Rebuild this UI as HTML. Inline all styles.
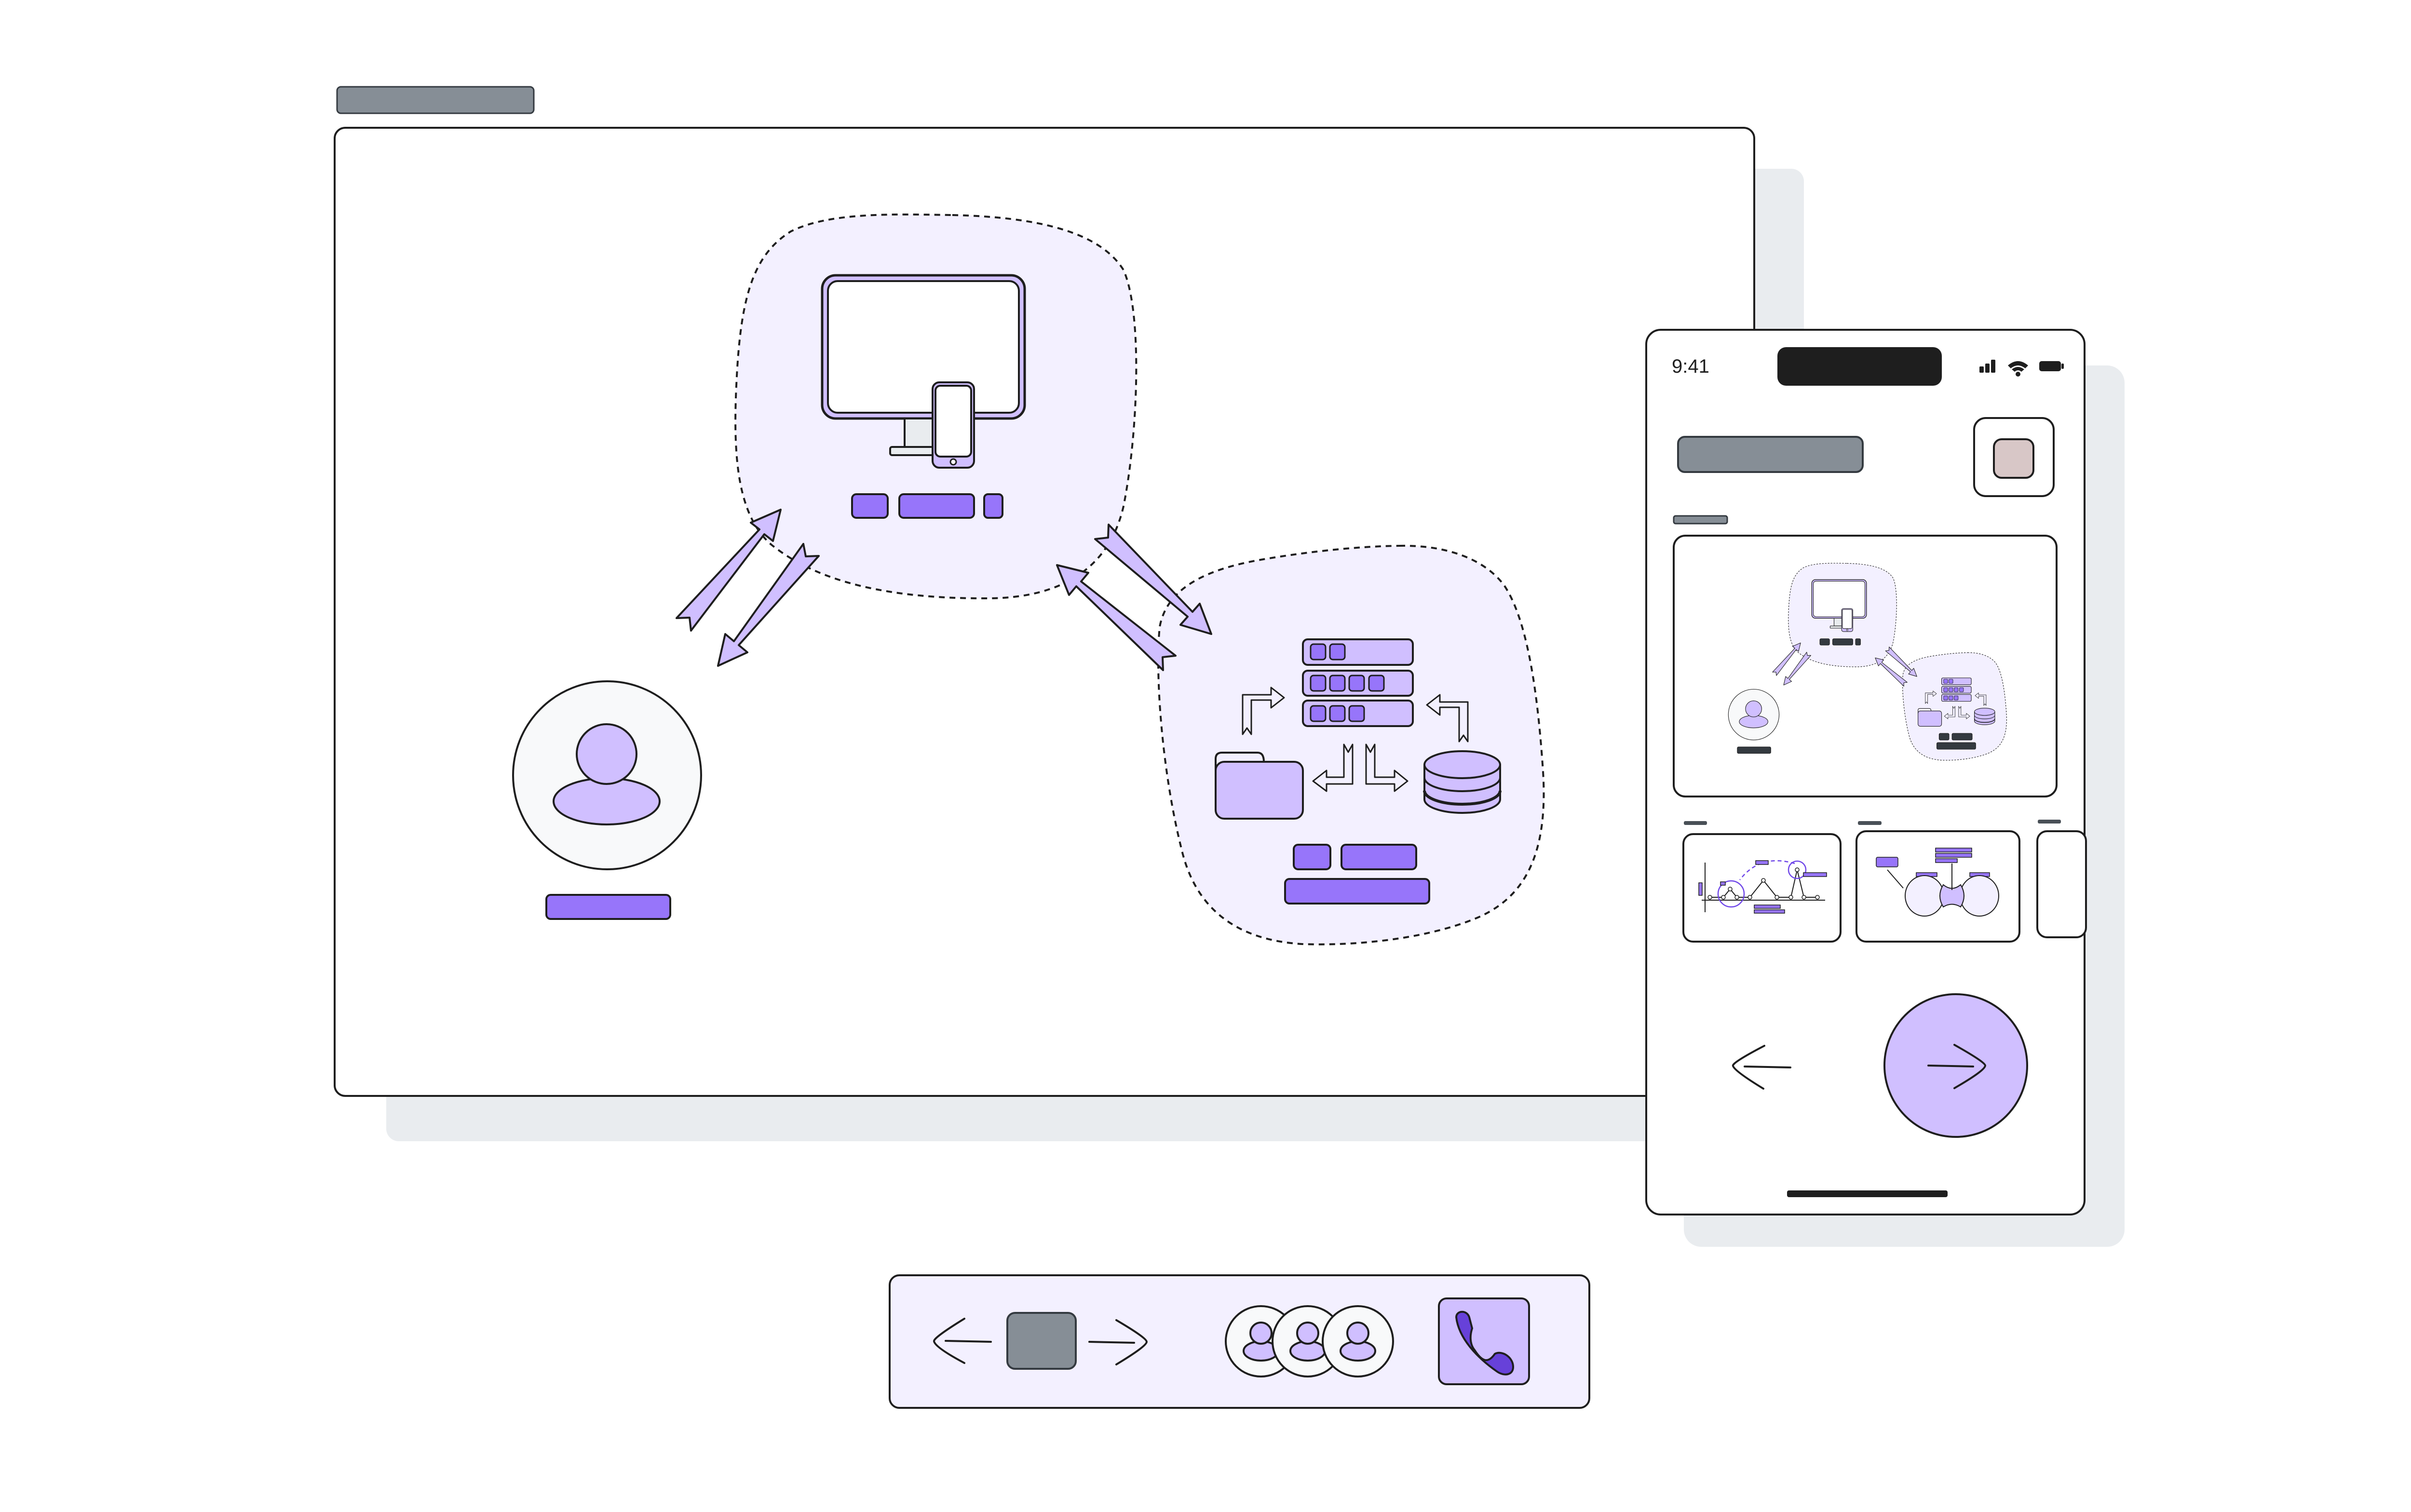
<!DOCTYPE html>
<html><head><meta charset="utf-8"><style>
html,body{margin:0;padding:0;background:#fff;}
svg{display:block;}
.lbl{fill:var(--btn,#9775fa);}
</style></head><body>
<svg xmlns="http://www.w3.org/2000/svg" xmlns:xlink="http://www.w3.org/1999/xlink" width="5280" height="3136" viewBox="0 0 5280 3136">
<defs>
<g id="diag" stroke="#1e1e1e" stroke-linejoin="round">
  <path d="M1975,446 C2150,450 2280,480 2330,560 C2370,650 2360,900 2330,1050 C2300,1180 2200,1240 2050,1241 C1850,1242 1700,1210 1600,1130 C1530,1070 1520,950 1527,800 C1535,620 1560,530 1640,480 C1720,440 1850,444 1975,446 Z" fill="#f3f0ff" stroke-width="4" stroke-dasharray="12 10"/>
  <path d="M2902,1132 C3000,1130 3080,1160 3120,1215 C3170,1290 3190,1450 3200,1600 C3210,1760 3170,1860 3060,1905 C2950,1950 2800,1962 2700,1958 C2570,1950 2480,1890 2450,1760 C2410,1600 2395,1400 2405,1300 C2420,1220 2500,1180 2620,1160 C2720,1143 2820,1133 2902,1132 Z" fill="#f3f0ff" stroke-width="4" stroke-dasharray="12 10"/>
  <g fill="#d0bfff" stroke-width="4">
    <polygon points="1619,1057 1603,1122 1585,1108 1433,1308 1430,1281 1403,1282 1575,1098 1557,1084"/>
    <polygon points="1489,1381 1550,1353 1532,1338 1698,1153 1671,1154 1666,1128 1522,1330 1504,1315"/>
    <polygon points="2512,1315 2488,1252 2473,1269 2299,1088 2298,1115 2271,1118 2463,1279 2448,1296"/>
    <polygon points="2192,1172 2257,1188 2242,1206 2438,1360 2411,1363 2412,1390 2232,1216 2217,1234"/>
  </g>
  <rect x="1705" y="571" width="420" height="297" rx="28" fill="#d0bfff" stroke-width="5"/>
  <rect x="1717" y="583" width="396" height="273" rx="20" fill="#fff" stroke-width="4"/>
  <rect x="1876" y="868" width="60" height="59" fill="#e9ecef" stroke-width="4"/>
  <rect x="1846" y="927" width="95" height="17" rx="4" fill="#e9ecef" stroke-width="4"/>
  <rect x="1934" y="793" width="86" height="177" rx="14" fill="#d0bfff" stroke-width="4"/>
  <rect x="1940" y="800" width="74" height="147" rx="10" fill="#fff" stroke-width="4"/>
  <circle cx="1977" cy="958" r="6" fill="#fff" stroke-width="3"/>
  <g stroke-width="4">
    <rect class="lbl" x="1767" y="1025" width="74" height="49" rx="9"/>
    <rect class="lbl" x="1865" y="1025" width="155" height="49" rx="9"/>
    <rect class="lbl" x="2041" y="1025" width="38" height="49" rx="8"/>
  </g>
  <circle cx="1259" cy="1608" r="195" fill="#f8f9fa" stroke-width="4"/>
  <ellipse cx="1258" cy="1662" rx="110" ry="48" fill="#d0bfff" stroke-width="4"/>
  <ellipse cx="1258" cy="1564" rx="62" ry="62" fill="#d0bfff" stroke-width="4"/>
  <rect class="lbl" x="1133" y="1856" width="257" height="50" rx="9" stroke-width="4"/>
  <g stroke-width="4">
    <rect x="2702" y="1326" width="228" height="53" rx="10" fill="#d0bfff"/>
    <rect x="2702" y="1391" width="228" height="52" rx="10" fill="#d0bfff"/>
    <rect x="2702" y="1453" width="228" height="53" rx="10" fill="#d0bfff"/>
    <g fill="#9775fa" stroke-width="3">
      <rect x="2718" y="1336" width="31" height="32" rx="6"/><rect x="2758" y="1336" width="31" height="32" rx="6"/>
      <rect x="2718" y="1401" width="31" height="32" rx="6"/><rect x="2758" y="1401" width="31" height="32" rx="6"/><rect x="2798" y="1401" width="31" height="32" rx="6"/><rect x="2839" y="1401" width="31" height="32" rx="6"/>
      <rect x="2718" y="1464" width="31" height="32" rx="6"/><rect x="2758" y="1464" width="31" height="32" rx="6"/><rect x="2798" y="1464" width="31" height="32" rx="6"/>
    </g>
    <path d="M2521,1600 V1574 Q2521,1561 2534,1561 H2608 Q2621,1561 2621,1580" fill="#f3f0ff"/>
    <rect x="2521" y="1580" width="181" height="118" rx="18" fill="#d0bfff"/>
    <path d="M2954,1586 V1658 A78.5,28 0 0 0 3111,1658 V1586 Z" fill="#d0bfff"/>
    <path d="M2954,1613 A78.5,28 0 0 0 3111,1613" fill="none"/>
    <path d="M2954,1640 A78.5,28 0 0 0 3111,1640" fill="none" stroke-width="6"/>
    <ellipse cx="3032.5" cy="1586" rx="78.5" ry="28" fill="#d0bfff"/>
    <g fill="#f3f0ff" stroke-width="3">
      <polygon points="2577,1523 2586,1510 2595,1523 2595,1452 2636,1452 2636,1468 2663,1447 2636,1426 2636,1441 2577,1441"/>
      <polygon points="3044,1538 3035,1525 3026,1538 3026,1467 2986,1467 2986,1483 2959,1462 2986,1441 2986,1456 3044,1456"/>
      <polygon points="2787,1544 2796,1560 2805,1544 2805,1626 2751,1626 2751,1641 2723,1620 2751,1598 2751,1612 2787,1612"/>
      <polygon points="2833,1544 2842,1560 2851,1544 2851,1612 2892,1612 2892,1598 2919,1620 2892,1641 2892,1626 2833,1626"/>
    </g>
    <rect class="lbl" x="2683" y="1752" width="76" height="51" rx="9"/>
    <rect class="lbl" x="2782" y="1752" width="155" height="51" rx="9"/>
    <rect class="lbl" x="2665" y="1823" width="299" height="51" rx="9"/>
  </g>
</g>
</defs>

<rect x="801" y="350" width="2940" height="2017" rx="26" fill="#e9ecef"/>
<rect x="694" y="265" width="2944" height="2008" rx="22" fill="#fff" stroke="#1e1e1e" stroke-width="4"/>
<rect x="699" y="180" width="408" height="55" rx="8" fill="#868e96" stroke="#343a40" stroke-width="3"/>
<use xlink:href="#diag"/>

<rect x="3492" y="758" width="914" height="1828" rx="36" fill="#e9ecef"/>
<rect x="3414" y="684" width="909" height="1835" rx="30" fill="#fff" stroke="#1e1e1e" stroke-width="4"/>
<text x="3467" y="773" font-family="Liberation Sans, sans-serif" font-size="40" fill="#1e1e1e">9:41</text>
<rect x="3686" y="720" width="341" height="80" rx="18" fill="#1e1e1e"/>
<g fill="#1e1e1e">
  <rect x="4105" y="760" width="9" height="13" rx="2"/><rect x="4117" y="754" width="9" height="19" rx="2"/><rect x="4129" y="746" width="9" height="27" rx="2"/>
  <path d="M4164,758 Q4185,740 4206,758 L4200,764 Q4185,752 4170,764 Z"/>
  <path d="M4172,766 Q4185,756 4198,766 L4192,771 Q4185,765 4178,771 Z"/>
  <circle cx="4185" cy="776" r="5"/>
  <rect x="4229" y="749" width="45" height="21" rx="5"/><rect x="4275" y="754" width="5" height="11" rx="2"/>
</g>
<rect x="3480" y="906" width="383" height="73" rx="14" fill="#868e96" stroke="#343a40" stroke-width="4"/>
<rect x="4094" y="867" width="165" height="162" rx="24" fill="#fff" stroke="#1e1e1e" stroke-width="4"/>
<rect x="4135" y="911" width="82" height="80" rx="16" fill="#d8c7c7" stroke="#1e1e1e" stroke-width="4"/>
<rect x="3471" y="1070" width="111" height="16" rx="4" fill="#868e96" stroke="#343a40" stroke-width="3"/>
<rect x="3471" y="1111" width="794" height="541" rx="24" fill="#fff" stroke="#1e1e1e" stroke-width="4"/>
<use xlink:href="#diag" transform="translate(3297,1048) scale(0.27)" style="--btn:#343a40"/>

<g fill="#495057"><rect x="3492" y="1703" width="48" height="8" rx="3"/><rect x="3853" y="1703" width="49" height="8" rx="3"/><rect x="4226" y="1700" width="48" height="8" rx="3"/></g>
<g fill="#fff" stroke="#1e1e1e" stroke-width="4">
  <rect x="3491" y="1730" width="326" height="223" rx="20"/>
  <rect x="3850" y="1724" width="338" height="229" rx="20"/>
  <rect x="4225" y="1724" width="101" height="220" rx="20"/>
</g>
<g stroke="#1e1e1e" stroke-width="2" fill="none">
  <line x1="3536" y1="1789" x2="3536" y2="1892"/>
  <line x1="3529" y1="1867" x2="3785" y2="1867"/>
  <polyline points="3546,1861 3574,1861 3588,1844 3602,1861 3629,1861 3657,1826 3685,1861 3714,1861 3727,1804 3741,1861 3769,1861"/>
</g>
<g fill="#fff" stroke="#1e1e1e" stroke-width="1.5">
  <circle cx="3546" cy="1861" r="4"/><circle cx="3574" cy="1861" r="4"/><circle cx="3588" cy="1844" r="4"/><circle cx="3602" cy="1861" r="4"/><circle cx="3629" cy="1861" r="4"/><circle cx="3657" cy="1826" r="4"/><circle cx="3685" cy="1861" r="4"/><circle cx="3714" cy="1861" r="4"/><circle cx="3727" cy="1804" r="4"/><circle cx="3741" cy="1861" r="4"/><circle cx="3769" cy="1861" r="4"/>
</g>
<g fill="none" stroke="#7048e8" stroke-width="2.5">
  <circle cx="3590" cy="1854" r="27"/><circle cx="3727" cy="1804" r="18"/>
  <path d="M3722,1791 Q3650,1770 3608,1825" stroke-dasharray="8 6"/>
</g>
<g fill="#9775fa" stroke="#1e1e1e" stroke-width="1.5">
  <rect x="3641" y="1785" width="26" height="8"/><rect x="3740" y="1810" width="48" height="8"/><rect x="3523" y="1831" width="7" height="26"/><rect x="3568" y="1829" width="10" height="7"/><rect x="3638" y="1877" width="54" height="7"/><rect x="3638" y="1887" width="63" height="7"/>
  <rect x="3891" y="1778" width="45" height="20" rx="3"/><rect x="4014" y="1759" width="75" height="8"/><rect x="4014" y="1770" width="75" height="8"/><rect x="4014" y="1781" width="45" height="8"/><rect x="3974" y="1810" width="43" height="8"/><rect x="4085" y="1810" width="41" height="8"/>
</g>
<g stroke="#1e1e1e" stroke-width="2">
  <ellipse cx="3991" cy="1858" rx="40" ry="42" fill="#f3f0ff"/>
  <ellipse cx="4105" cy="1858" rx="40" ry="42" fill="#f3f0ff"/>
  <path d="M4030,1835 Q4048,1850 4066,1835 Q4080,1858 4066,1881 Q4048,1870 4030,1881 Q4016,1858 4030,1835Z" fill="#d0bfff"/>
  <line x1="3914" y1="1804" x2="3947" y2="1842" fill="none"/>
  <line x1="4048" y1="1791" x2="4048" y2="1846" fill="none"/>
</g>

<g fill="none" stroke="#1e1e1e" stroke-width="4" stroke-linecap="round">
  <path d="M3659,2169 Q3590,2205 3594,2211 Q3598,2222 3657,2258"/>
  <line x1="3618" y1="2212" x2="3713" y2="2214"/>
</g>
<circle cx="4056" cy="2210" r="148" fill="#d0bfff" stroke="#1e1e1e" stroke-width="4"/>
<g fill="none" stroke="#1e1e1e" stroke-width="4" stroke-linecap="round">
  <path d="M4053,2167 Q4117,2203 4117,2210 Q4117,2220 4053,2257"/>
  <line x1="3999" y1="2210" x2="4092" y2="2212"/>
</g>
<rect x="3706" y="2469" width="333" height="14" rx="4" fill="#1e1e1e"/>

<rect x="1845" y="2645" width="1451" height="275" rx="20" fill="#f3f0ff" stroke="#1e1e1e" stroke-width="4"/>
<g fill="none" stroke="#1e1e1e" stroke-width="4" stroke-linecap="round">
  <path d="M2000,2735 Q1935,2775 1937,2782 Q1940,2795 2000,2827"/>
  <line x1="1961" y1="2781" x2="2055" y2="2783"/>
  <line x1="2259" y1="2783" x2="2352" y2="2785"/>
  <path d="M2315,2738 Q2378,2775 2378,2783 Q2378,2792 2315,2830"/>
</g>
<rect x="2089" y="2723" width="142" height="116" rx="16" fill="#868e96" stroke="#343a40" stroke-width="4"/>
<g stroke="#1e1e1e" stroke-width="4">
  <circle cx="2615" cy="2782" r="73" fill="#f8f9fa"/>
  <ellipse cx="2615" cy="2802" rx="36" ry="20" fill="#d0bfff"/><ellipse cx="2615" cy="2765" rx="22" ry="22" fill="#d0bfff"/>
  <circle cx="2712" cy="2782" r="73" fill="#f8f9fa"/>
  <ellipse cx="2712" cy="2802" rx="36" ry="20" fill="#d0bfff"/><ellipse cx="2712" cy="2765" rx="22" ry="22" fill="#d0bfff"/>
  <circle cx="2816" cy="2782" r="73" fill="#f8f9fa"/>
  <ellipse cx="2816" cy="2802" rx="36" ry="20" fill="#d0bfff"/><ellipse cx="2816" cy="2765" rx="22" ry="22" fill="#d0bfff"/>
  <rect x="2984" y="2693" width="187" height="178" rx="16" fill="#d0bfff"/>
  <path d="M3020,2732 C3020,2718 3042,2716 3047,2732 L3053,2755 C3048,2770 3048,2788 3058,2800 C3072,2822 3085,2830 3100,2808 C3115,2800 3138,2815 3138,2835 C3138,2852 3120,2855 3105,2845 C3062,2815 3025,2775 3020,2732 Z" fill="#6741d9"/>
</g>
</svg>
</body></html>
